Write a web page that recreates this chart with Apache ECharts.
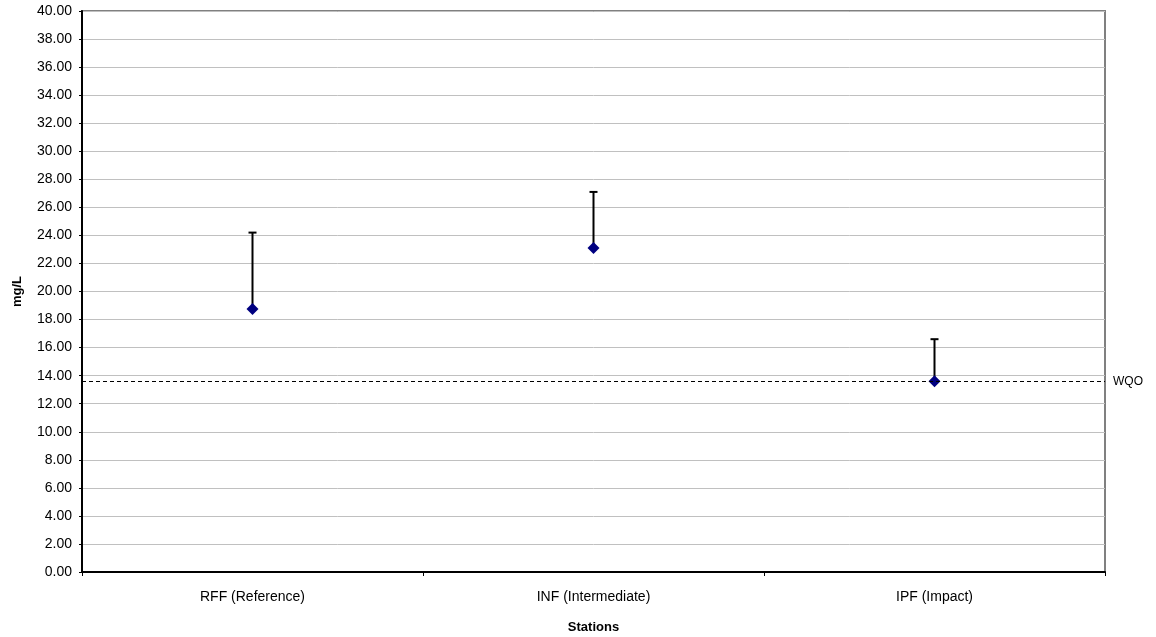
<!DOCTYPE html>
<html lang="en" style="height: 100%">
<head>
  <meta charset="utf-8">
</head>
<body style="height: 100%; margin: 0; background: #fff">
  <div id="container" style="width: 1156px; height: 637px"></div>

  <script type="text/javascript" src="https://cdn.jsdelivr.net/npm/echarts@6/dist/echarts.min.js"></script>

  <script type="text/javascript">
    var dom = document.getElementById('container');
    var myChart = echarts.init(dom, null, { renderer: 'canvas' });

    // stations and values
    const stations = ['RFF (Reference)', 'INF (Intermediate)', 'IPF (Impact)'];
    const means = [18.75, 23.1, 13.6];
    const upper = [24.2, 27.1, 16.6];
    const wqo = 13.6;

    const font = 'Liberation Sans';

    const option = {
      animation: false,
      backgroundColor: '#fff',
      grid: {
        left: 82,
        right: 51,
        top: 11,
        bottom: 65,
        outerBoundsMode: 'none',
        containLabel: false,
        show: true,
        borderColor: '#808080',
        borderWidth: 2
      },
      xAxis: {
        type: 'category',
        data: stations,
        boundaryGap: true,
        name: 'Stations',
        nameLocation: 'middle',
        nameGap: 49,
        nameTextStyle: { fontFamily: font, fontSize: 13, fontWeight: 'bold', color: '#000' },
        axisLine: { lineStyle: { color: '#000', width: 2 } },
        axisTick: { show: true, alignWithLabel: false, length: 4, lineStyle: { color: '#000' } },
        axisLabel: { fontFamily: font, fontSize: 14, color: '#000', margin: 18 },
        splitLine: { show: false }
      },
      yAxis: {
        type: 'value',
        min: 0,
        max: 40,
        interval: 2,
        name: 'mg/L',
        nameLocation: 'middle',
        nameGap: 58,
        nameTextStyle: { fontFamily: font, fontSize: 13, fontWeight: 'bold', color: '#000' },
        axisLine: { show: true, lineStyle: { color: '#000', width: 2 } },
        axisTick: { show: true, length: 3, lineStyle: { color: '#000' } },
        axisLabel: {
          fontFamily: font, fontSize: 14, color: '#000', margin: 10,
          formatter: function (v) { return v.toFixed(2); }
        },
        splitLine: { show: true, lineStyle: { color: '#c0c0c0', width: 1 } }
      },
      series: [
        {
          type: 'custom',
          z: 3,
          data: stations.map(function (s, i) { return [i, means[i], upper[i]]; }),
          renderItem: function (params, api) {
            const lo = api.coord([api.value(0), api.value(1)]);
            const hi = api.coord([api.value(0), api.value(2)]);
            return {
              type: 'group',
              children: [
                {
                  type: 'line',
                  shape: { x1: lo[0], y1: lo[1], x2: hi[0], y2: hi[1] },
                  style: { stroke: '#000', lineWidth: 2 }
                },
                {
                  type: 'line',
                  shape: { x1: hi[0] - 4, y1: hi[1], x2: hi[0] + 4, y2: hi[1] },
                  style: { stroke: '#000', lineWidth: 2 }
                }
              ]
            };
          }
        },
        {
          type: 'line',
          z: 4,
          data: means,
          symbol: 'diamond',
          symbolSize: 12,
          lineStyle: { width: 0, opacity: 0 },
          itemStyle: { color: '#000080', borderWidth: 0 },
          markLine: {
            silent: true,
            symbol: 'none',
            data: [{ yAxis: wqo }],
            lineStyle: { color: '#000', type: [4, 3], width: 1 },
            label: {
              position: 'end',
              formatter: 'WQO',
              fontFamily: font,
              fontSize: 12,
              color: '#000',
              distance: 8
            }
          }
        }
      ]
    };

    myChart.setOption(option);
    window.addEventListener('resize', myChart.resize);
  </script>
</body>
</html>
